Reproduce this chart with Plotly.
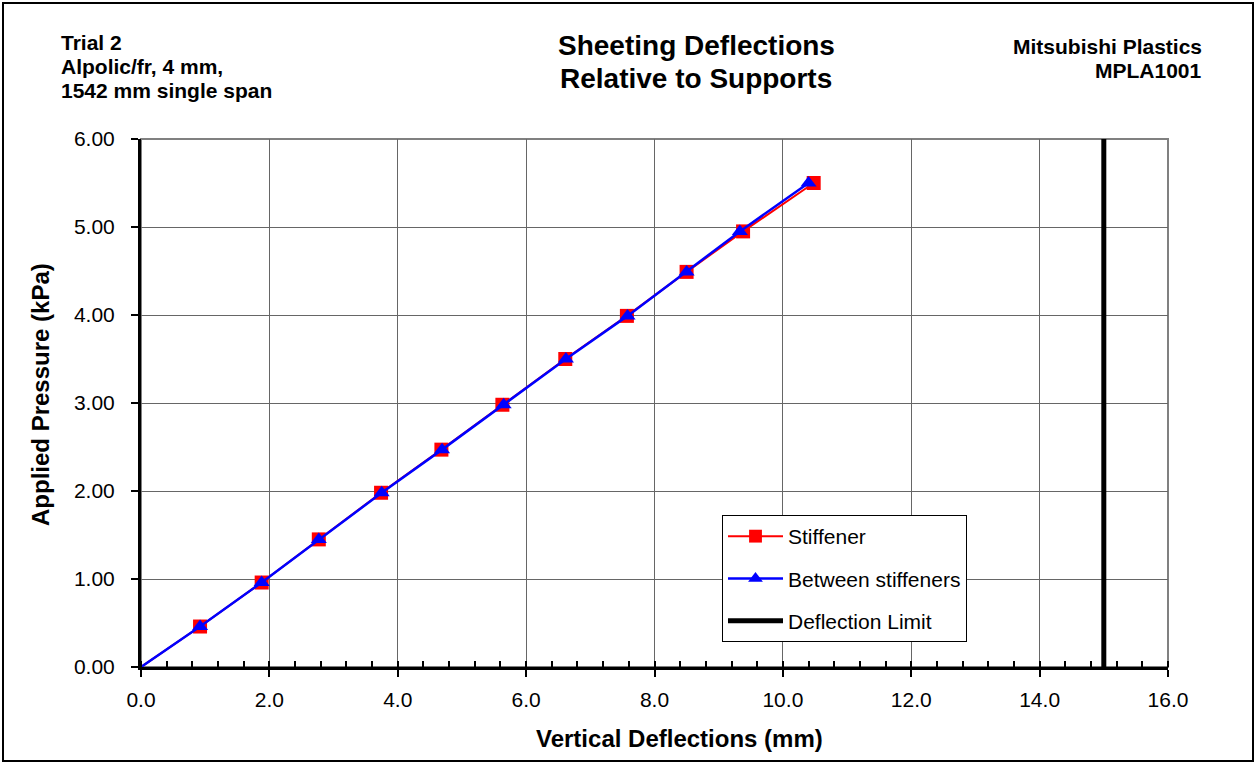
import plotly.graph_objects as go

# Data
pressure_kpa = [0.00, 0.46, 0.96, 1.45, 1.98, 2.47, 2.98, 3.50, 3.99, 4.49, 4.95, 5.50]
stiffener_mm = [0.00, 0.92, 1.88, 2.77, 3.74, 4.68, 5.63, 6.61, 7.57, 8.50, 9.38, 10.48]
between_mm = [0.00, 0.92, 1.88, 2.77, 3.75, 4.69, 5.65, 6.62, 7.58, 8.50, 9.33, 10.40]
limit_x = [15.0, 15.0]
limit_y = [0.0, 6.0]

x_ticks = [0, 2, 4, 6, 8, 10, 12, 14, 16]
y_ticks = [0, 1, 2, 3, 4, 5, 6]

title_lines = ["Sheeting Deflections", "Relative to Supports"]
left_lines = ["Trial 2", "Alpolic/fr, 4 mm,", "1542 mm single span"]
right_lines = ["Mitsubishi Plastics", "MPLA1001"]
x_title = "Vertical Deflections (mm)"
y_title = "Applied Pressure (kPa)"

FONT = "Arial, Liberation Sans, sans-serif"

W, H = 1255, 763
L, R, T, B = 141, 1168, 139, 667  # plot area in pixels


def px(xp):
    return (xp - L) / (R - L)


def py(yp):
    return (B - yp) / (B - T)


# no marker drawn at the origin point
marker_sizes = [0 if v == 0 else 14 for v in pressure_kpa]

fig = go.Figure()

fig.add_trace(go.Scatter(
    x=stiffener_mm, y=pressure_kpa, name="Stiffener", legendgroup="a",
    mode="lines+markers",
    line=dict(color="#FF0000", width=2),
    marker=dict(symbol="square", size=marker_sizes, color="#FF0000",
                opacity=1, line=dict(width=0)),
))
fig.add_trace(go.Scatter(
    x=between_mm, y=pressure_kpa, name="Between stiffeners", legendgroup="b",
    mode="lines+markers",
    line=dict(color="#0000FF", width=2.5),
    marker=dict(symbol="triangle-up", size=marker_sizes, color="#0000FF",
                opacity=1, line=dict(width=0)),
))
fig.add_trace(go.Scatter(
    x=limit_x, y=limit_y, name="Deflection Limit", legendgroup="c",
    mode="lines",
    line=dict(color="#000000", width=5),
))

annotations = []
for i, t in enumerate(title_lines):
    annotations.append(dict(
        text="<b>%s</b>" % t, xref="paper", yref="paper",
        x=px(696), y=py(45 + 33 * i), xanchor="center", yanchor="middle",
        showarrow=False, font=dict(size=28, family=FONT)))
for i, t in enumerate(left_lines):
    annotations.append(dict(
        text="<b>%s</b>" % t, xref="paper", yref="paper",
        x=px(59), y=py(43 + 23.5 * i), xanchor="left", yanchor="middle",
        showarrow=False, font=dict(size=21, family=FONT)))
for i, t in enumerate(right_lines):
    annotations.append(dict(
        text="<b>%s</b>" % t, xref="paper", yref="paper",
        x=px(1204), y=py(47 + 24 * i), xanchor="right", yanchor="middle",
        showarrow=False, font=dict(size=21, family=FONT)))
annotations.append(dict(
    text="<b>%s</b>" % x_title, xref="paper", yref="paper",
    x=px(679), y=py(738), xanchor="center", yanchor="middle",
    showarrow=False, font=dict(size=24, family=FONT)))
annotations.append(dict(
    text="<b>%s</b>" % y_title, xref="paper", yref="paper",
    x=px(40), y=py(395), xanchor="center", yanchor="middle", textangle=-90,
    showarrow=False, font=dict(size=24, family=FONT)))

fig.update_layout(
    width=W, height=H,
    margin=dict(l=L, r=W - R, t=T, b=H - B),
    paper_bgcolor="white", plot_bgcolor="white",
    font=dict(family=FONT, size=21, color="black"),
    showlegend=True,
    legend=dict(
        x=px(722), y=py(515), xanchor="left", yanchor="top",
        bgcolor="white", bordercolor="black", borderwidth=1,
        font=dict(family=FONT, size=21, color="black"),
        tracegroupgap=12, itemwidth=55,
    ),
    xaxis=dict(
        range=[0, 16], tickvals=x_ticks, tickformat=".1f",
        showgrid=True, gridcolor="#666666", gridwidth=1,
        showline=True, linecolor="black", linewidth=3,
        ticks="outside", ticklen=7, tickwidth=2, tickcolor="black",
        minor=dict(dtick=0.4, ticks="inside", ticklen=6, tickwidth=2, tickcolor="black", showgrid=False),
        zeroline=False,
        ticklabelstandoff=5,
    ),
    yaxis=dict(
        range=[0, 6], tickvals=y_ticks, tickformat=".2f",
        showgrid=True, gridcolor="#666666", gridwidth=1,
        showline=True, linecolor="black", linewidth=3,
        ticks="outside", ticklen=7, tickwidth=2, tickcolor="black",
        zeroline=False,
        ticklabelstandoff=12,
    ),
    shapes=[
        dict(type="rect", xref="paper", yref="paper", x0=0, y0=0, x1=1, y1=1,
             line=dict(color="#808080", width=2), layer="below"),
        dict(type="rect", xref="paper", yref="paper",
             x0=px(3), x1=px(1253), y0=py(761), y1=py(3),
             line=dict(color="black", width=2)),
    ],
    annotations=annotations,
)

fig.write_html("out.html", config={"displayModeBar": False},
               post_script="document.body.style.margin='0';")
